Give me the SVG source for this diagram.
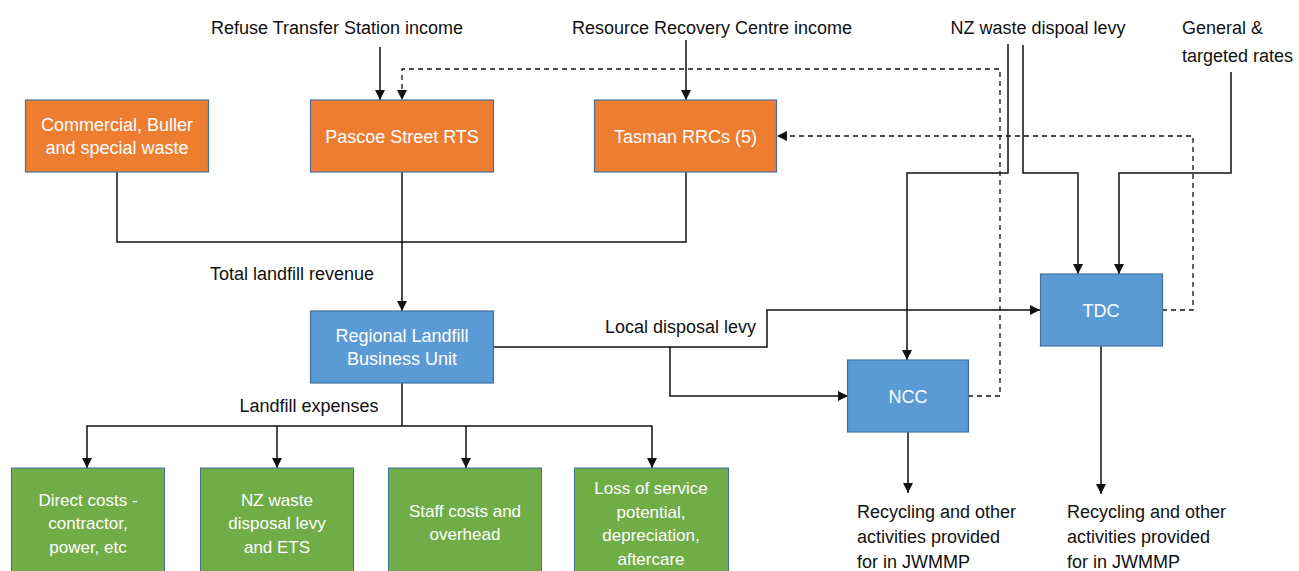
<svg xmlns="http://www.w3.org/2000/svg" width="1299" height="571" viewBox="0 0 1299 571">
<style>
text{font-family:"Liberation Sans",Arial,sans-serif;font-size:18px;fill:#111}
.w{fill:#fff;text-anchor:middle}
.g{font-size:17px}
.c{text-anchor:middle}
.or{fill:#ED7D31;stroke:#41719C;stroke-width:1.2}
.bl{fill:#5B9BD5;stroke:#41719C;stroke-width:1.2}
.gr{fill:#70AD47;stroke:#41719C;stroke-width:1}
.ln{fill:none;stroke:#111;stroke-width:1.5}
.ar{marker-end:url(#ah)}
.da{fill:none;stroke:#111;stroke-width:1.3;stroke-dasharray:5 4}
</style>
<defs>
<marker id="ah" markerUnits="userSpaceOnUse" markerWidth="10" markerHeight="10" refX="10" refY="5" orient="auto">
<path d="M0,0 L10,5 L0,10 z" fill="#111"/>
</marker>
</defs>
<rect width="1299" height="571" fill="#fff"/>
<g id="labels">
<text class="c" x="337" y="34">Refuse Transfer Station income</text>
<text class="c" x="712" y="34">Resource Recovery Centre income</text>
<text class="c" x="1038" y="34">NZ waste dispoal levy</text>
<text x="1182" y="34">General &amp;</text>
<text x="1182" y="62">targeted rates</text>
<text class="c" x="292" y="280">Total landfill revenue</text>
<text x="605" y="333">Local disposal levy</text>
<text class="c" x="309" y="412">Landfill expenses</text>
<text x="857" y="518">Recycling and other</text>
<text x="857" y="543">activities provided</text>
<text x="857" y="568">for in JWMMP</text>
<text x="1067" y="518">Recycling and other</text>
<text x="1067" y="543">activities provided</text>
<text x="1067" y="568">for in JWMMP</text>
</g>
<g id="connectors">
<path class="ln ar" d="M380,47 V100"/>
<path class="ln ar" d="M686,40 V100"/>
<path class="da ar" d="M968,396 H1000 V69 H402 V100"/>
<path class="da ar" d="M1162,310 H1193 V136 H777"/>
<path class="ln ar" d="M1008,44 V173 H907 V360"/>
<path class="ln ar" d="M1023,45 V173 H1078 V274"/>
<path class="ln ar" d="M1231,72 V173 H1119 V274"/>
<path class="ln" d="M117,172 V242 H686 V172"/>
<path class="ln ar" d="M402,172 V311"/>
<path class="ln ar" d="M493,347 H767 V310 H1040"/>
<path class="ln ar" d="M670,347 V396 H848"/>
<path class="ln" d="M402,383 V426"/>
<path class="ln ar" d="M402,426 H87 V468"/>
<path class="ln ar" d="M402,426 H652 V468"/>
<path class="ln ar" d="M277,426 V468"/>
<path class="ln ar" d="M466,426 V468"/>
<path class="ln ar" d="M908,432 V493"/>
<path class="ln ar" d="M1101,346 V494"/>
</g>
<g id="commercial">
<rect class="or" x="25.5" y="100" width="183" height="72"/>
<text class="w" x="117" y="131">Commercial, Buller</text>
<text class="w" x="117" y="154">and special waste</text>
</g>
<g id="pascoe">
<rect class="or" x="310.5" y="100" width="183" height="72"/>
<text class="w" x="402" y="143">Pascoe Street RTS</text>
</g>
<g id="tasman">
<rect class="or" x="594.5" y="100" width="182" height="72"/>
<text class="w" x="685.5" y="143">Tasman RRCs (5)</text>
</g>
<g id="rlbu">
<rect class="bl" x="310.5" y="311" width="183" height="72"/>
<text class="w" x="402" y="342">Regional Landfill</text>
<text class="w" x="402" y="365">Business Unit</text>
</g>
<g id="ncc">
<rect class="bl" x="847.5" y="360" width="121" height="72"/>
<text class="w" x="908" y="403">NCC</text>
</g>
<g id="tdc">
<rect class="bl" x="1040.5" y="274" width="122" height="72"/>
<text class="w" x="1101" y="317">TDC</text>
</g>
<g id="direct">
<rect class="gr" x="11.5" y="468" width="153" height="115"/>
<text class="w g" x="88" y="506">Direct costs -</text>
<text class="w g" x="88" y="529">contractor,</text>
<text class="w g" x="88" y="553">power, etc</text>
</g>
<g id="levy">
<rect class="gr" x="200.5" y="468" width="153" height="115"/>
<text class="w g" x="277" y="506">NZ waste</text>
<text class="w g" x="277" y="529">disposal levy</text>
<text class="w g" x="277" y="553">and ETS</text>
</g>
<g id="staff">
<rect class="gr" x="388.5" y="468" width="153" height="115"/>
<text class="w g" x="465" y="517">Staff costs and</text>
<text class="w g" x="465" y="540">overhead</text>
</g>
<g id="loss">
<rect class="gr" x="574.5" y="468" width="154" height="115"/>
<text class="w g" x="651" y="494">Loss of service</text>
<text class="w g" x="651" y="518">potential,</text>
<text class="w g" x="651" y="541">depreciation,</text>
<text class="w g" x="651" y="565">aftercare</text>
</g>
</svg>
